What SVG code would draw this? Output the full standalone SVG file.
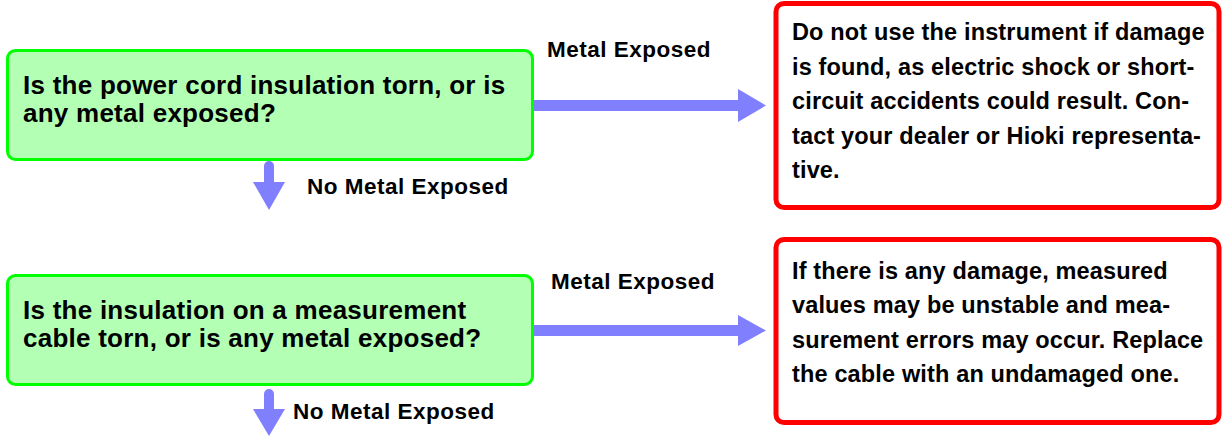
<svg xmlns="http://www.w3.org/2000/svg" width="1223" height="437" viewBox="0 0 1223 437">
<style>
text { font-family: "Liberation Sans", Arial, sans-serif; font-weight: bold; fill: #000; }
.q { font-size: 26px; letter-spacing: 0.25px; }
.a { font-size: 23.5px; letter-spacing: 0.15px; }
.lbl { font-size: 22.5px; letter-spacing: 0.5px; }
.qbox { fill: #b3ffb3; stroke: #00ff00; stroke-width: 3; }
.abox { fill: #ffffff; stroke: #ff0000; stroke-width: 5; }
.shaft { stroke: #8080ff; stroke-linecap: round; fill: none; }
.head { fill: #8080ff; }
</style>
<rect width="1223" height="437" fill="#ffffff"/>
<g id="connectors">
  <line class="shaft" x1="533" y1="105.5" x2="740" y2="105.5" stroke-width="11" stroke-linecap="butt"/>
  <polygon class="head" points="738,89 766,105.5 738,122"/>
  <line class="shaft" x1="269" y1="166" x2="269" y2="185" stroke-width="10"/>
  <polygon class="head" points="253,182 285,182 269,210"/>
  <line class="shaft" x1="533" y1="330.5" x2="740" y2="330.5" stroke-width="11" stroke-linecap="butt"/>
  <polygon class="head" points="738,315 766,330.5 738,346"/>
  <line class="shaft" x1="269" y1="394" x2="269" y2="412" stroke-width="10"/>
  <polygon class="head" points="253,409 285,409 269,436"/>
  <text class="lbl" x="547" y="57">Metal Exposed</text>
  <text class="lbl" x="307" y="194">No Metal Exposed</text>
  <text class="lbl" x="551" y="289">Metal Exposed</text>
  <text class="lbl" x="293" y="419">No Metal Exposed</text>
</g>
<g id="q1">
  <rect class="qbox" x="7.5" y="50.5" width="525" height="109" rx="8"/>
  <text class="q" x="23" y="94">Is the power cord insulation torn, or is</text>
  <text class="q" x="23" y="122">any metal exposed?</text>
</g>
<g id="a1">
  <rect class="abox" x="776" y="3.5" width="443" height="204" rx="8"/>
  <text class="a" x="792" y="40">Do not use the instrument if damage</text>
  <text class="a" x="792" y="75">is found, as electric shock or short-</text>
  <text class="a" x="792" y="109">circuit accidents could result. Con-</text>
  <text class="a" x="792" y="144">tact your dealer or Hioki representa-</text>
  <text class="a" x="792" y="178">tive.</text>
</g>
<g id="q2">
  <rect class="qbox" x="7.5" y="275.5" width="525" height="109" rx="8"/>
  <text class="q" x="23" y="319">Is the insulation on a measurement</text>
  <text class="q" x="23" y="347">cable torn, or is any metal exposed?</text>
</g>
<g id="a2">
  <rect class="abox" x="776" y="239.5" width="443" height="183" rx="8"/>
  <text class="a" x="792" y="279">If there is any damage, measured</text>
  <text class="a" x="792" y="313">values may be unstable and mea-</text>
  <text class="a" x="792" y="348">surement errors may occur. Replace</text>
  <text class="a" x="792" y="382">the cable with an undamaged one.</text>
</g>
</svg>
